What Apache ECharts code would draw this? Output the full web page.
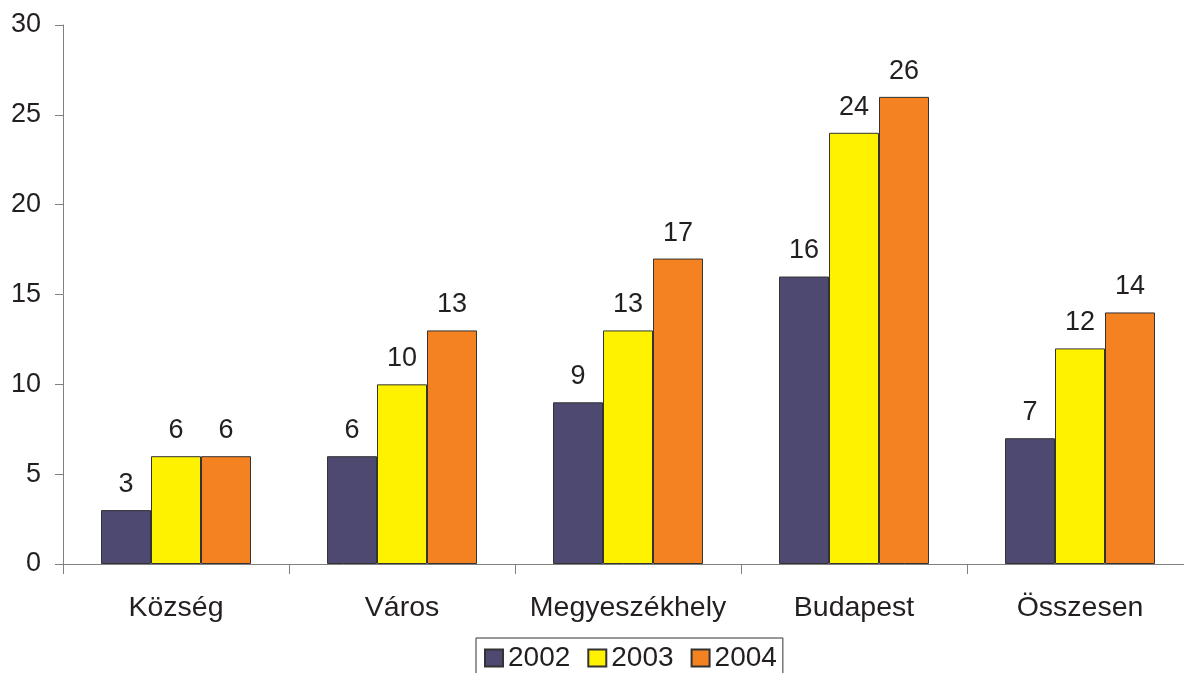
<!DOCTYPE html>
<html>
<head>
<meta charset="utf-8">
<script src="https://cdn.jsdelivr.net/npm/echarts@6/dist/echarts.min.js"></script>
<style>
  html, body { margin: 0; padding: 0; background: #fff; }
  #chart { width: 1184px; height: 673px; }
</style>
</head>
<body>
<div id="chart"></div>
<script>
// categories and values
const categories = ['Község', 'Város', 'Megyeszékhely', 'Budapest', 'Összesen']
const years = ['2002', '2003', '2004']
const values2002 = [3, 6, 9, 16, 7]
const values2003 = [6, 10, 13, 24, 12]
const values2004 = [6, 13, 17, 26, 14]
const yTicks = [0, 5, 10, 15, 20, 25, 30]

const colors = ['#4e4971', '#fff200', '#f58220']
const textColor = '#231f20'
const font = 'Liberation Sans, Arial, sans-serif'

const chart = echarts.init(document.getElementById('chart'))

const makeSeries = (name, data, color) => ({
  name,
  type: 'bar',
  data,
  barWidth: 50,
  barGap: '0%',
  itemStyle: { color, borderColor: '#333', borderWidth: 1 },
  label: {
    show: true,
    position: 'top',
    distance: 12,
    color: textColor,
    fontSize: 27,
    fontFamily: font
  }
})

chart.setOption({
  animation: false,
  // the x axis runs past the right edge of the picture
  grid: { left: 63, top: 25, width: 1130, bottom: 109, containLabel: false, outerBoundsMode: 'none' },
  legend: {
    data: years,
    left: 476,
    top: 638,
    icon: 'rect',
    itemWidth: 18,
    itemHeight: 17,
    itemGap: 17,
    padding: [6, 6, 10, 8],
    borderColor: '#333',
    borderWidth: 1,
    textStyle: { fontSize: 28, color: textColor, fontFamily: font }
  },
  xAxis: {
    type: 'category',
    data: categories,
    axisLine: { lineStyle: { color: '#808080', width: 1 } },
    axisTick: { show: true, interval: 0, length: 10, lineStyle: { color: '#808080' } },
    axisLabel: { interval: 0, fontSize: 28.5, color: textColor, fontFamily: font, margin: 30 }
  },
  yAxis: {
    type: 'value',
    min: yTicks[0],
    max: yTicks[yTicks.length - 1],
    interval: 5,
    splitLine: { show: false },
    axisLine: { show: true, lineStyle: { color: '#808080', width: 1 } },
    axisTick: { show: true, length: 8, lineStyle: { color: '#808080' } },
    axisLabel: { fontSize: 27, color: textColor, fontFamily: font, margin: 22 }
  },
  series: [
    makeSeries(years[0], values2002, colors[0]),
    makeSeries(years[1], values2003, colors[1]),
    makeSeries(years[2], values2004, colors[2])
  ]
})
</script>
</body>
</html>
